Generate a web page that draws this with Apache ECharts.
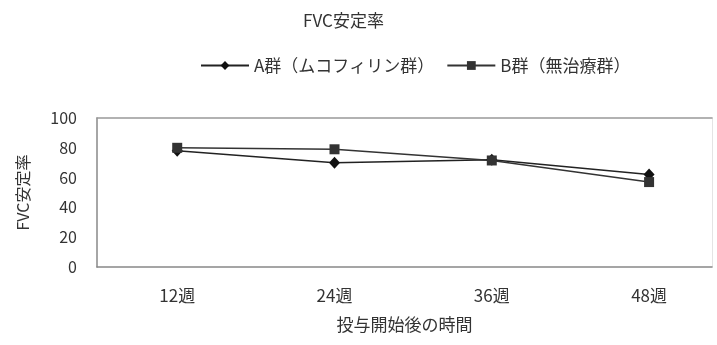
<!DOCTYPE html>
<html><head><meta charset="utf-8">
<script src="https://cdn.jsdelivr.net/npm/echarts@6/dist/echarts.min.js"></script>
<style>html,body{margin:0;padding:0;background:#fff}#c{width:717px;height:345px}</style>
</head><body><div id="c"></div>
<script>
const categories = ['12週', '24週', '36週', '48週'];
const seriesAName = 'A群（ムコフィリン群）';
const seriesBName = 'B群（無治療群）';
const seriesA = [78, 70, 72, 62];
const seriesB = [80, 79, 71.5, 57];
const yTicks = [0, 20, 40, 60, 80, 100];

const font = "'Noto Sans CJK JP', sans-serif";
const textColor = '#333';
const chart = echarts.init(document.getElementById('c'));
chart.setOption({
  backgroundColor: '#fff',
  animation: false,
  title: {
    text: 'FVC安定率', left: 298, top: 7,
    textStyle: { fontFamily: font, fontSize: 17, fontWeight: 'normal', color: textColor }
  },
  legend: {
    left: 195, top: 52, itemWidth: 48, itemHeight: 11, itemGap: 12,
    textStyle: { fontFamily: font, fontSize: 17, color: textColor },
    data: [seriesAName, seriesBName]
  },
  grid: { left: 97, right: 5, top: 118, bottom: 78 },
  xAxis: [{
    type: 'value', min: -0.51, max: 3.4,
    axisLine: { show: true, onZero: false, lineStyle: { color: '#888', width: 1.5 } },
    axisTick: { show: false },
    splitLine: { show: false },
    axisLabel: {
      customValues: [0, 1, 2, 3], margin: 20,
      formatter: v => categories[Math.round(v)],
      fontFamily: font, fontSize: 17, color: textColor
    },
    name: '投与開始後の時間', nameLocation: 'middle', nameGap: 49,
    nameTextStyle: { fontFamily: font, fontSize: 17, color: textColor }
  }, {
    type: 'value', position: 'top', min: -0.51, max: 3.4,
    axisLine: { show: true, onZero: false, lineStyle: { color: '#999', width: 1.5 } },
    axisTick: { show: false }, axisLabel: { show: false }, splitLine: { show: false }
  }],
  yAxis: [{
    type: 'value', min: 0, max: 100, interval: 20,
    axisLine: { show: true, onZero: false, lineStyle: { color: '#888', width: 1.5 } },
    axisTick: { show: false },
    splitLine: { show: false },
    axisLabel: {
      margin: 20, fontFamily: font, fontSize: 16, color: textColor,
      formatter: v => yTicks.includes(v) ? String(v) : ''
    },
    name: 'FVC安定率', nameLocation: 'middle', nameGap: 66, nameRotate: 90,
    nameTextStyle: { fontFamily: font, fontSize: 16, color: textColor }
  }, {
    type: 'value', position: 'right', min: 0, max: 100,
    axisLine: { show: true, onZero: false, lineStyle: { color: '#e4e4e4', width: 1 } },
    axisTick: { show: false }, axisLabel: { show: false }, splitLine: { show: false }
  }],
  series: [{
    name: seriesAName, type: 'line',
    data: seriesA.map((v, i) => [i, v]),
    symbol: 'diamond', symbolSize: [11, 12],
    lineStyle: { color: '#222', width: 1.5 },
    itemStyle: { color: '#111' }
  }, {
    name: seriesBName, type: 'line',
    data: seriesB.map((v, i) => [i, v]),
    symbol: 'rect', symbolSize: 10,
    lineStyle: { color: '#333', width: 1.5 },
    itemStyle: { color: '#333' }
  }]
});
</script></body></html>
